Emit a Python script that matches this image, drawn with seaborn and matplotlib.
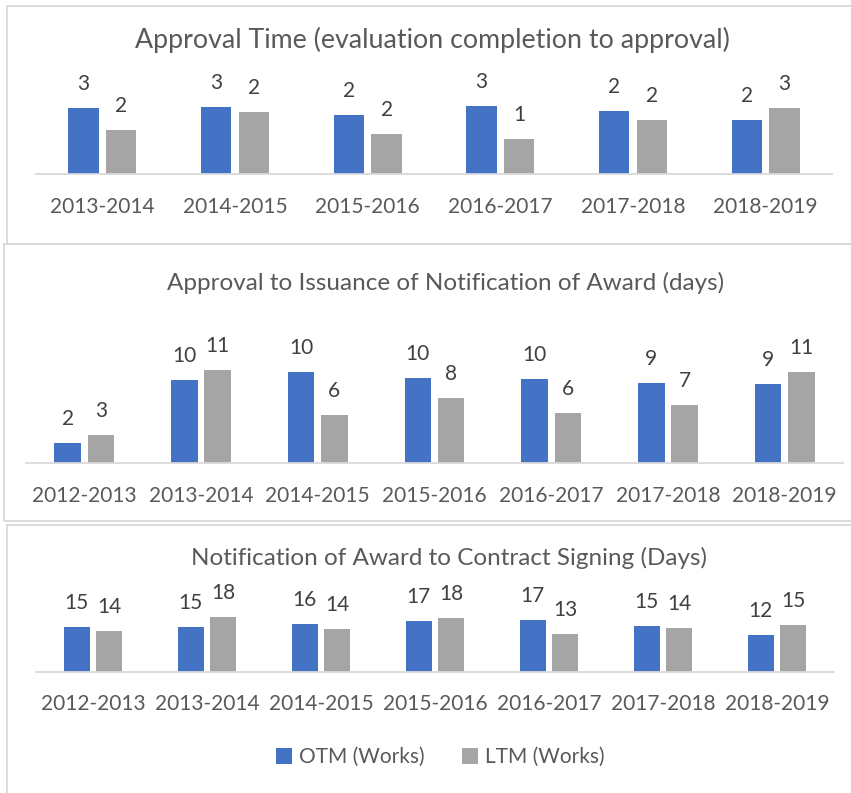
import matplotlib
matplotlib.use("Agg")
import matplotlib.pyplot as plt
from matplotlib.patches import Rectangle
import pandas as pd
import seaborn as sns

W, H = 851, 793

SERIES = ["OTM (Works)", "LTM (Works)"]
COLORS = ["#4472C4", "#A5A5A5"]

# panel 1
approval_years = ["2013-2014", "2014-2015", "2015-2016", "2016-2017", "2017-2018", "2018-2019"]
approval_otm = [2.55, 2.59, 2.28, 2.62, 2.45, 2.10]
approval_ltm = [1.72, 2.41, 1.55, 1.36, 2.09, 2.55]

# panel 2
issuance_years = ["2012-2013", "2013-2014", "2014-2015", "2015-2016", "2016-2017", "2017-2018", "2018-2019"]
issuance_otm = [2.30, 9.54, 10.46, 9.85, 9.66, 9.20, 9.11]
issuance_ltm = [3.29, 10.76, 5.59, 7.51, 5.75, 6.74, 10.53]

# panel 3
signing_years = ["2012-2013", "2013-2014", "2014-2015", "2015-2016", "2016-2017", "2017-2018", "2018-2019"]
signing_otm = [14.9, 15.0, 15.9, 16.9, 17.1, 15.2, 12.3]
signing_ltm = [13.6, 18.1, 14.1, 17.7, 12.7, 14.4, 15.4]

sns.set_theme(style="white")
plt.rcParams["font.family"] = ["Lato", "DejaVu Sans"]

fig = plt.figure(figsize=(W / 100, H / 100), dpi=100)


def px_axes(x0, x1, y_top, y_base):
    return fig.add_axes([x0 / W, 1 - y_base / H, (x1 - x0) / W, (y_base - y_top) / H])


def panel_box(x0, y0, x1, y1):
    fig.patches.append(Rectangle((x0 / W, 1 - y1 / H), (x1 - x0) / W, (y1 - y0) / H,
                                 transform=fig.transFigure, fill=False,
                                 edgecolor="#D9D9D9", linewidth=1.3))


def draw_panel(ax, years, otm, ltm, ymax, title, title_y, title_x, title_size):
    df = pd.DataFrame({
        "year": years * 2,
        "value": otm + ltm,
        "series": [SERIES[0]] * len(years) + [SERIES[1]] * len(years),
    })
    sns.barplot(data=df, x="year", y="value", hue="series", palette=COLORS,
                saturation=1, width=0.57, gap=0.2, linewidth=0, ax=ax, legend=True)
    for c in ax.containers:
        ax.bar_label(c, fmt="{:.0f}", padding=10, fontsize=15, color="#404040")
    ax.set_xlim(-0.5, len(years) - 0.5)
    ax.set_ylim(0, ymax)
    ax.set_xlabel("")
    ax.set_ylabel("")
    ax.set_yticks([])
    ax.tick_params(axis="x", length=0, pad=16, labelsize=15, labelcolor="#595959")
    sns.despine(ax=ax, left=True)
    ax.spines["bottom"].set_color("#D9D9D9")
    ax.spines["bottom"].set_linewidth(1.3)
    ax.patch.set_alpha(0)
    fig.text(title_x / W, 1 - title_y / H, title, ha="center", va="center",
             fontsize=title_size, color="#595959")
    handles, labels = ax.get_legend_handles_labels()
    ax.get_legend().remove()
    return handles, labels


panel_box(7, 5.5, 860, 244)
panel_box(3.5, 244, 860, 520.7)
panel_box(7, 525, 860, 800)

ax1 = px_axes(36, 832, 83.3, 174.3)
draw_panel(ax1, approval_years, approval_otm, approval_ltm, 3.5,
           "Approval Time (evaluation completion to approval)", 40, 432, 19.3)

ax2 = px_axes(26, 843, 359, 463.3)
draw_panel(ax2, issuance_years, issuance_otm, issuance_ltm, 12,
           "Approval to Issuance of Notification of Award (days)", 283, 446, 17.5)

ax3 = px_axes(36, 834, 611.4, 672)
handles, labels = draw_panel(ax3, signing_years, signing_otm, signing_ltm, 20,
                             "Notification of Award to Contract Signing (Days)", 558, 449, 17.5)

fig.legend(handles, labels, loc="center", bbox_to_anchor=(440 / W, 1 - 757 / H),
           ncol=2, frameon=False, fontsize=15, labelcolor="#595959",
           handlelength=0.8, handleheight=0.8, handletextpad=0.3, columnspacing=1.8)

fig.savefig("out.png", dpi=100)
